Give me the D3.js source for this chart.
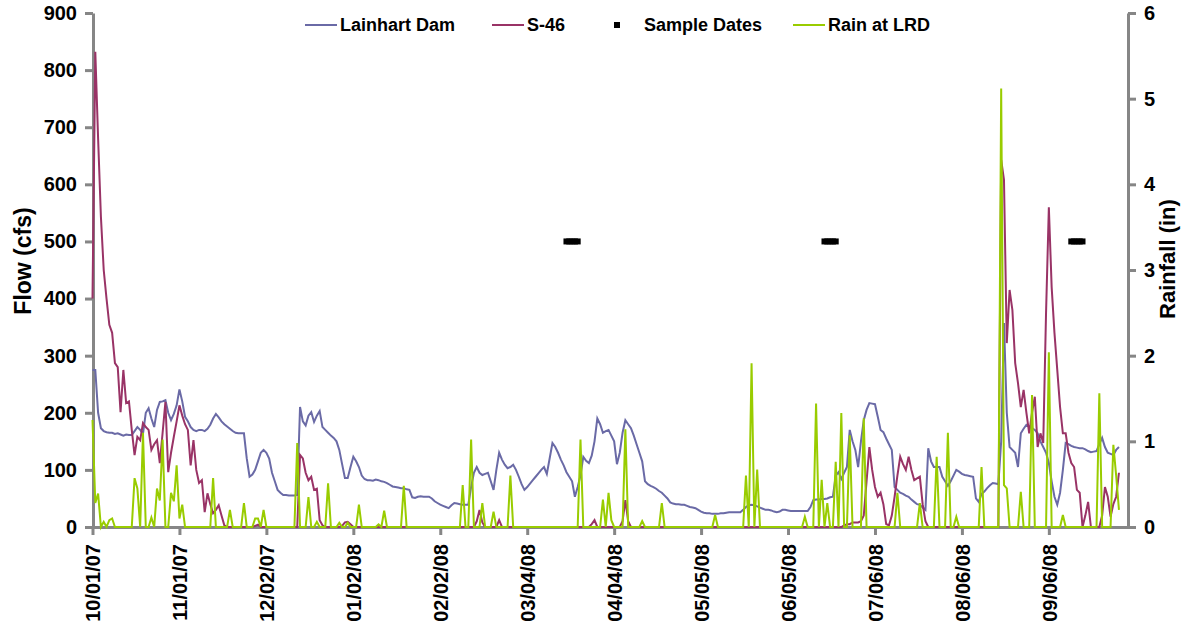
<!DOCTYPE html>
<html>
<head>
<meta charset="utf-8">
<script src="https://cdn.jsdelivr.net/npm/d3@7"></script>
<style>
  body { margin: 0; background: #fff; }
  svg text { font-family: Arial, "Liberation Sans", sans-serif; font-weight: bold; }
</style>
</head>
<body>
<div id="chart"></div>
<script>
// daily values, day 0 = 10/01/07
const tickLabels = ["10/01/07", "11/01/07", "12/02/07", "01/02/08", "02/02/08", "03/04/08",
  "04/04/08", "05/05/08", "06/05/08", "07/06/08", "08/06/08", "09/06/08"];
const tickDays = [0, 31, 62, 93, 124, 155, 186, 217, 248, 279, 310, 341];

const flowTicks = [0, 100, 200, 300, 400, 500, 600, 700, 800, 900];
const rainTicks = [0, 1, 2, 3, 4, 5, 6];

// Lainhart Dam flow (cfs)
const lainhart = [
  275, 275, 200, 173, 168, 166, 165, 165, 163, 164,
  162, 160, 162, 161, 161, 168, 175, 170, 163, 200,
  208, 190, 175, 205, 219, 220, 222, 200, 187, 198,
  213, 241, 220, 193, 185, 175, 170, 168, 170, 170,
  168, 172, 179, 190, 198, 192, 185, 180, 176, 172,
  168, 165, 164, 164, 164, 120, 88, 92, 100, 115,
  130, 135, 130, 120, 95, 80, 65, 60, 56, 56,
  55, 55, 55, 56, 210, 185, 178, 195, 201, 184,
  195, 203, 175, 170, 165, 160, 156, 150, 135, 110,
  86, 86, 105, 123, 115, 105, 90, 84, 82, 82,
  81, 83, 82, 80, 79, 77, 74, 71, 70, 69,
  68, 68, 66, 65, 52, 51, 53, 54, 53, 53,
  53, 50, 45, 42, 39, 37, 35, 33, 38, 42,
  41, 40, 39, 39, 39, 70, 95, 105, 95, 91,
  93, 95, 80, 65, 100, 130, 118, 109, 103, 105,
  109, 100, 88, 75, 65, 70, 76, 82, 88, 94,
  100, 105, 93, 120, 147, 140, 130, 118, 108, 96,
  88, 80, 53, 70, 90, 123, 116, 112, 125, 150,
  190, 180, 165, 168, 170, 160, 150, 110, 130, 165,
  187, 180, 173, 160, 145, 130, 115, 80, 75, 72,
  70, 67, 63, 60, 55, 50, 43, 41, 40, 40,
  39, 39, 37, 35, 34, 33, 30, 27, 25, 24,
  24, 23, 23, 23, 24, 24, 25, 26, 26, 26,
  26, 26, 30, 35, 38, 39, 38, 36, 34, 32,
  30, 30, 29, 27, 26, 27, 30, 30, 29, 28,
  28, 28, 28, 28, 28, 28, 35, 47, 48, 48,
  49, 49, 50, 52, 53, 90, 96, 84, 95, 105,
  170, 150, 135, 105, 150, 187, 205, 217, 216, 215,
  193, 170, 166, 155, 145, 135, 70, 65, 60, 58,
  55, 53, 48, 44, 40, 39, 34, 30, 138, 115,
  105, 105, 105, 88, 80, 72, 80, 90, 100, 97,
  93, 91, 90, 89, 88, 50, 44, 58, 62, 68,
  73, 77, 76, 75, 150, 357, 200, 140, 135, 130,
  105, 164, 172, 179, 176, 173, 170, 164, 150, 140,
  130, 112, 80, 53, 39, 60, 100, 147, 145, 142,
  140, 139, 138, 138, 136, 133, 131, 132, 133, 145,
  156, 140, 130, 128, 126, 135, 140
];

// S-46 flow (cfs)
const s46 = [
  400, 832, 680, 543, 450, 400, 354, 340, 287, 280,
  201, 275, 217, 220, 170, 126, 158, 152, 182, 175,
  170, 135, 145, 152, 112, 165, 219, 96, 130, 158,
  185, 213, 195, 180, 170, 108, 152, 100, 77, 82,
  26, 59, 40, 24, 30, 38, 20, 3, 0, 0,
  0, 0, 0, 0, 0, 0, 0, 0, 2, 4,
  0, 0, 0, 0, 0, 0, 0, 0, 0, 0,
  0, 0, 0, 0, 126, 120, 95, 82, 88, 65,
  67, 12, 3, 0, 0, 0, 0, 0, 0, 2,
  8, 9, 5, 0, 0, 0, 0, 0, 0, 0,
  0, 0, 0, 0, 0, 0, 0, 0, 0, 0,
  0, 0, 0, 0, 0, 0, 0, 0, 0, 0,
  0, 0, 0, 0, 0, 0, 0, 0, 0, 0,
  0, 0, 0, 0, 0, 0, 0, 10, 30, 8,
  0, 0, 0, 0, 0, 12, 0, 0, 0, 0,
  0, 0, 0, 0, 0, 0, 0, 0, 0, 0,
  0, 0, 0, 0, 0, 0, 0, 0, 0, 0,
  0, 0, 0, 0, 0, 0, 0, 0, 5, 12,
  0, 0, 0, 0, 0, 0, 0, 0, 0, 10,
  47, 10, 0, 0, 0, 0, 0, 0, 0, 0,
  0, 0, 0, 0, 0, 0, 0, 0, 0, 0,
  0, 0, 0, 0, 0, 0, 0, 0, 0, 0,
  0, 0, 0, 0, 0, 0, 0, 0, 0, 0,
  0, 0, 0, 0, 0, 0, 0, 0, 0, 0,
  0, 0, 0, 0, 0, 0, 0, 0, 0, 0,
  0, 0, 0, 0, 0, 0, 0, 0, 0, 0,
  0, 0, 0, 0, 0, 0, 0, 0, 3, 5,
  5, 8, 8, 8, 10, 20, 80, 140, 100, 70,
  53, 60, 40, 5, 3, 20, 53, 90, 123, 110,
  100, 123, 100, 82, 85, 88, 40, 10, 0, 0,
  0, 0, 0, 0, 0, 0, 0, 0, 0, 0,
  0, 0, 0, 0, 0, 0, 0, 0, 0, 0,
  0, 0, 0, 0, 643, 608, 322, 415, 380, 287,
  252, 210, 240, 200, 164, 200, 228, 140, 164, 147,
  375, 560, 420, 340, 275, 210, 164, 164, 130, 112,
  105, 65, 60, 0, 20, 44, 0, 0, 0, 0,
  20, 70, 53, 18, 40, 53, 95
];

// Rain at LRD (in)
const rain = [
  1.25, 0.28, 0.39, 0, 0.06, 0, 0.08, 0.1, 0, 0,
  0, 0, 0, 0, 0, 0.57, 0.45, 0, 1.1, 0,
  0, 0.11, 0, 0.45, 0.31, 1.02, 0, 0, 0.4, 0.3,
  0.72, 0.1, 0.26, 0, 0, 0, 0, 0, 0, 0,
  0, 0, 0, 0.57, 0, 0, 0, 0, 0, 0.2,
  0, 0, 0, 0, 0.28, 0, 0, 0, 0.1, 0.1,
  0, 0.2, 0, 0, 0, 0, 0, 0, 0, 0,
  0, 0, 0, 0.98, 0, 0, 0, 0.35, 0, 0,
  0.06, 0, 0, 0, 0.51, 0, 0, 0, 0.05, 0,
  0, 0.05, 0, 0, 0, 0.26, 0, 0, 0, 0,
  0, 0, 0.03, 0, 0.19, 0, 0, 0, 0, 0,
  0, 0.48, 0, 0, 0, 0, 0, 0, 0, 0,
  0, 0, 0, 0, 0, 0, 0, 0, 0, 0,
  0, 0, 0.49, 0, 0, 1.02, 0, 0, 0, 0.28,
  0, 0, 0, 0.18, 0, 0, 0, 0, 0, 0.6,
  0, 0, 0, 0, 0, 0, 0, 0, 0, 0,
  0, 0, 0, 0, 0, 0, 0, 0, 0, 0,
  0, 0, 0, 0, 1.02, 0, 0, 0, 0, 0,
  0, 0, 0.32, 0, 0.4, 0.08, 0, 0, 0, 0,
  1.14, 0, 0, 0, 0, 0, 0.07, 0, 0, 0,
  0, 0, 0, 0.28, 0, 0, 0, 0, 0, 0,
  0, 0, 0, 0, 0, 0, 0, 0, 0, 0,
  0, 0, 0.14, 0, 0, 0, 0, 0, 0, 0,
  0, 0, 0, 0.6, 0, 1.91, 0, 0.67, 0, 0,
  0, 0, 0, 0, 0, 0, 0, 0, 0, 0,
  0, 0, 0, 0, 0.12, 0, 0, 0, 1.44, 0,
  0.55, 0, 0.28, 0, 0, 0.76, 0, 1.33, 0, 0,
  1.07, 0, 0, 0, 0, 1.27, 0, 0, 0, 0,
  0, 0, 0, 0, 0, 0, 0, 0.4, 0, 0,
  0, 0, 0, 0, 0, 0.28, 0, 0, 0, 0,
  0, 0.82, 0, 0, 0, 1.1, 0, 0, 0.12, 0,
  0, 0, 0, 0, 0, 0, 0, 0.7, 0, 0,
  0, 0, 0, 0, 5.12, 0.49, 0.45, 0, 0, 0,
  0, 0.41, 0, 0, 0, 1.54, 0, 0, 0, 0,
  0, 2.04, 0, 0, 0, 0, 0.14, 0, 0, 0,
  0, 0, 0, 0, 0, 0, 0, 0, 0, 1.56,
  0, 0, 0, 0, 0.96, 0.6, 0.2
];

// sample dates, plotted at 500 cfs
const sampleDays = [169, 170, 171, 172, 173, 261, 262, 263, 264, 265, 349, 350, 351, 352, 353];
const sampleFlow = 500;

const W = 1182, H = 632;
const plot = { left: 93, right: 1128, top: 13, bottom: 527 };
const axisColor = "#868686";
const colors = { lainhart: "#6a6aa6", s46: "#993366", rain: "#99cc00" };

const svg = d3.select("#chart").append("svg")
  .attr("width", W)
  .attr("height", H);

const x = d3.scaleLinear().domain([0, 369.4]).range([plot.left - 0.5, plot.right + 0.5]);
const y = d3.scaleLinear().domain([0, 900]).range([plot.bottom, plot.top]);
const y2 = d3.scaleLinear().domain([0, 6]).range([plot.bottom, plot.top]);

function styleAxis(g) {
  g.select(".domain").attr("stroke", axisColor).attr("stroke-width", 3);
  g.selectAll(".tick line").attr("stroke", axisColor).attr("stroke-width", 3);
  g.selectAll(".tick text").attr("fill", "#000").style("font-size", "20px");
}

// axes first, series are drawn over them
svg.append("g")
  .attr("transform", `translate(${plot.left},0)`)
  .call(d3.axisLeft(y).tickValues(flowTicks).tickSize(8).tickSizeOuter(0).tickPadding(8))
  .call(styleAxis);

svg.append("g")
  .attr("transform", `translate(${plot.right},0)`)
  .call(d3.axisRight(y2).tickValues(rainTicks).tickFormat(d3.format("d"))
    .tickSize(8).tickSizeOuter(0).tickPadding(8))
  .call(styleAxis);

const xAxis = svg.append("g")
  .attr("transform", `translate(0,${plot.bottom})`)
  .call(d3.axisBottom(x).tickValues(tickDays).tickFormat((d, i) => tickLabels[i])
    .tickSize(8).tickSizeOuter(0))
  .call(styleAxis);

xAxis.selectAll(".tick text")
  .attr("transform", "rotate(-90)")
  .attr("x", -17)
  .attr("y", 0)
  .attr("dy", "0.36em")
  .style("text-anchor", "end");

// axis titles
svg.append("text")
  .attr("transform", "translate(31,261) rotate(-90)")
  .attr("text-anchor", "middle")
  .style("font-size", "23px")
  .text("Flow (cfs)");

svg.append("text")
  .attr("transform", "translate(1175,259) rotate(-90)")
  .attr("text-anchor", "middle")
  .style("font-size", "22px")
  .text("Rainfall (in)");

const line = (scale) => d3.line()
  .x((d, i) => x(i))
  .y(d => scale(d));

svg.append("path")
  .datum(lainhart)
  .attr("fill", "none")
  .attr("stroke", colors.lainhart)
  .attr("stroke-width", 2)
  .attr("d", line(y));

svg.append("path")
  .datum(s46)
  .attr("fill", "none")
  .attr("stroke", colors.s46)
  .attr("stroke-width", 2)
  .attr("d", line(y));

svg.append("g")
  .selectAll("rect")
  .data(sampleDays)
  .join("rect")
  .attr("x", d => x(d) - 3)
  .attr("y", y(sampleFlow) - 3)
  .attr("width", 6)
  .attr("height", 6)
  .attr("fill", "#000");

svg.append("path")
  .datum(rain)
  .attr("fill", "none")
  .attr("stroke", colors.rain)
  .attr("stroke-width", 2)
  .attr("d", line(y2));

// legend
const legend = svg.append("g").attr("transform", "translate(0,25)");
const legendItems = [
  { name: "Lainhart Dam", color: colors.lainhart, x: 305, type: "line" },
  { name: "S-46", color: colors.s46, x: 492, type: "line" },
  { name: "Sample Dates", color: "#000", x: 609, type: "square" },
  { name: "Rain at LRD", color: colors.rain, x: 793, type: "line" }
];

legendItems.forEach(item => {
  if (item.type === "line") {
    legend.append("line")
      .attr("x1", item.x).attr("x2", item.x + 32)
      .attr("y1", 0).attr("y2", 0)
      .attr("stroke", item.color)
      .attr("stroke-width", 2);
  } else {
    legend.append("rect")
      .attr("x", item.x + 5).attr("y", -3)
      .attr("width", 6).attr("height", 6)
      .attr("fill", item.color);
  }
  legend.append("text")
    .attr("x", item.x + 35)
    .attr("y", 0)
    .attr("dy", "0.35em")
    .style("font-size", "18px")
    .text(item.name);
});
</script>
</body>
</html>
